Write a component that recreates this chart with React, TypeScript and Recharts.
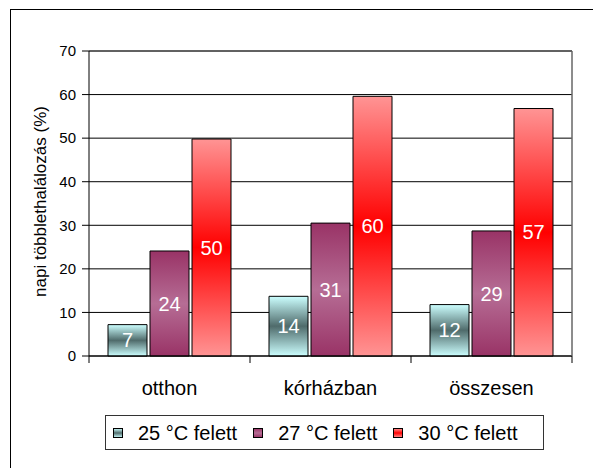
import { BarChart, Bar, XAxis, YAxis, CartesianGrid, Legend, LabelList, ReferenceLine } from "recharts";

const categories = ["otthon", "kórházban", "összesen"];
const above25 = [7.2, 13.7, 11.8];
const above27 = [24.1, 30.5, 28.7];
const above30 = [49.8, 59.6, 56.8];
const yTicks = [0, 10, 20, 30, 40, 50, 60, 70];
const boundaryTicks = [0, 1, 2, 3];

const seriesInfo = [
  { key: "t25", name: "25 °C felett", grad: "gCyan" },
  { key: "t27", name: "27 °C felett", grad: "gPurple" },
  { key: "t30", name: "30 °C felett", grad: "gRed" },
];

const data = categories.map((c, i) => ({
  name: c,
  pos: i + 0.5,
  t25: above25[i],
  t27: above27[i],
  t30: above30[i],
}));

const FONT = "'Liberation Sans', Arial, sans-serif";

const LegendBox = () => (
  <div
    style={{
      boxSizing: "border-box",
      width: 439,
      height: 35,
      border: "1px solid #333",
      display: "flex",
      alignItems: "center",
      paddingLeft: 7,
      fontFamily: FONT,
      fontSize: 20,
      color: "#000",
      background: "#fff",
    }}
  >
    {seriesInfo.map((s) => (
      <div key={s.key} style={{ display: "flex", alignItems: "center", marginRight: 16 }}>
        <svg width={10} height={10} style={{ marginRight: 15 }}>
          <rect x={0.5} y={0.5} width={9} height={9} fill={`url(#${s.grad})`} stroke="#000" />
        </svg>
        <span style={{ lineHeight: "20px" }}>{s.name}</span>
      </div>
    ))}
  </div>
);

const YLabel = ({ viewBox }: any) => {
  const cx = viewBox.x + 40;
  const cy = viewBox.y + viewBox.height / 2 - 2;
  return (
    <text
      x={cx}
      y={cy}
      transform={`rotate(-90 ${cx} ${cy})`}
      textAnchor="middle"
      dominantBaseline="central"
      fontFamily={FONT}
      fontSize={17}
      fill="#000"
    >
      napi többlethalálozás (%)
    </text>
  );
};

const App = () => {
  return (
    <div style={{ position: "absolute", left: 0, top: 0, width: 593, height: 468, overflow: "hidden", background: "#fff" }}>
      <div
        style={{
          position: "absolute",
          left: 10,
          top: 9,
          width: 700,
          height: 600,
          borderLeft: "1px solid #000",
          borderTop: "1px solid #000",
        }}
      />
      <div style={{ position: "absolute", left: 0, top: 0 }}>
        <BarChart
          width={593}
          height={468}
          data={data}
          margin={{ top: 51, right: 0, left: 0, bottom: 62 }}
          barCategoryGap={19}
          barGap={3}
        >
          <defs>
            <linearGradient id="gCyan" x1="0" y1="0" x2="0" y2="1">
              <stop offset="0%" stopColor="#ccffff" />
              <stop offset="50%" stopColor="#4f6b6b" />
              <stop offset="100%" stopColor="#ccffff" />
            </linearGradient>
            <linearGradient id="gPurple" x1="0" y1="0" x2="0" y2="1">
              <stop offset="0%" stopColor="#993366" />
              <stop offset="50%" stopColor="#b66d95" />
              <stop offset="100%" stopColor="#993366" />
            </linearGradient>
            <linearGradient id="gRed" x1="0" y1="0" x2="0" y2="1">
              <stop offset="0%" stopColor="#ff9494" />
              <stop offset="50%" stopColor="#ff0000" />
              <stop offset="100%" stopColor="#ff9494" />
            </linearGradient>
          </defs>
          <CartesianGrid xAxisId="b1" vertical={false} stroke="#000" strokeWidth={1} />
          <CartesianGrid
            xAxisId="a0"
            horizontal={false}
            verticalCoordinatesGenerator={({ offset }: any) => [offset.left + offset.width]}
            stroke="#666"
            strokeWidth={1}
          />
          <XAxis
            xAxisId="a0"
            type="number"
            dataKey="pos"
            domain={[0, 3]}
            allowDataOverflow
            ticks={boundaryTicks}
            interval={0}
            tick={{ fontSize: 0 }}
            tickFormatter={() => ""}
            tickSize={7}
            tickMargin={0}
            height={7}
            axisLine={{ stroke: "#000" }}
            tickLine={{ stroke: "#000" }}
          />
          <XAxis
            xAxisId="b1"
            dataKey="name"
            height={43}
            axisLine={false}
            tickLine={false}
            tickSize={0}
            tickMargin={18}
            tick={{ fontFamily: FONT, fontSize: 20, fill: "#000" }}
          />
          <YAxis
            domain={[0, 70]}
            ticks={yTicks}
            width={89}
            tickSize={7}
            tickMargin={6}
            axisLine={{ stroke: "#000" }}
            tickLine={{ stroke: "#000" }}
            tick={{ fontFamily: FONT, fontSize: 15, fill: "#000" }}
            label={<YLabel />}
          />
          <YAxis
            yAxisId="r"
            orientation="right"
            dataKey="t30"
            domain={[0, 70]}
            ticks={yTicks}
            width={21}
            tickSize={0}
            tickLine={false}
            tick={{ fontSize: 0 }}
            tickFormatter={() => ""}
            axisLine={{ stroke: "#666" }}
          />
          <ReferenceLine xAxisId="b1" y={70} stroke="#444" />
          {seriesInfo.map((s) => (
            <Bar
              key={s.key}
              xAxisId="b1"
              dataKey={s.key}
              name={s.name}
              fill={`url(#${s.grad})`}
              stroke="#000"
              strokeWidth={1}
              isAnimationActive={false}
            >
              <LabelList
                dataKey={s.key}
                position="center"
                formatter={(v: any) => Math.round(Number(v))}
                fill="#fff"
                fontSize={20}
                fontFamily={FONT}
              />
            </Bar>
          ))}
          <Legend
            layout="horizontal"
            verticalAlign="middle"
            align="center"
            content={<LegendBox />}
            wrapperStyle={{ left: 105, top: 415, width: 439, height: 35 }}
          />
        </BarChart>
      </div>
    </div>
  );
};

export default App;
